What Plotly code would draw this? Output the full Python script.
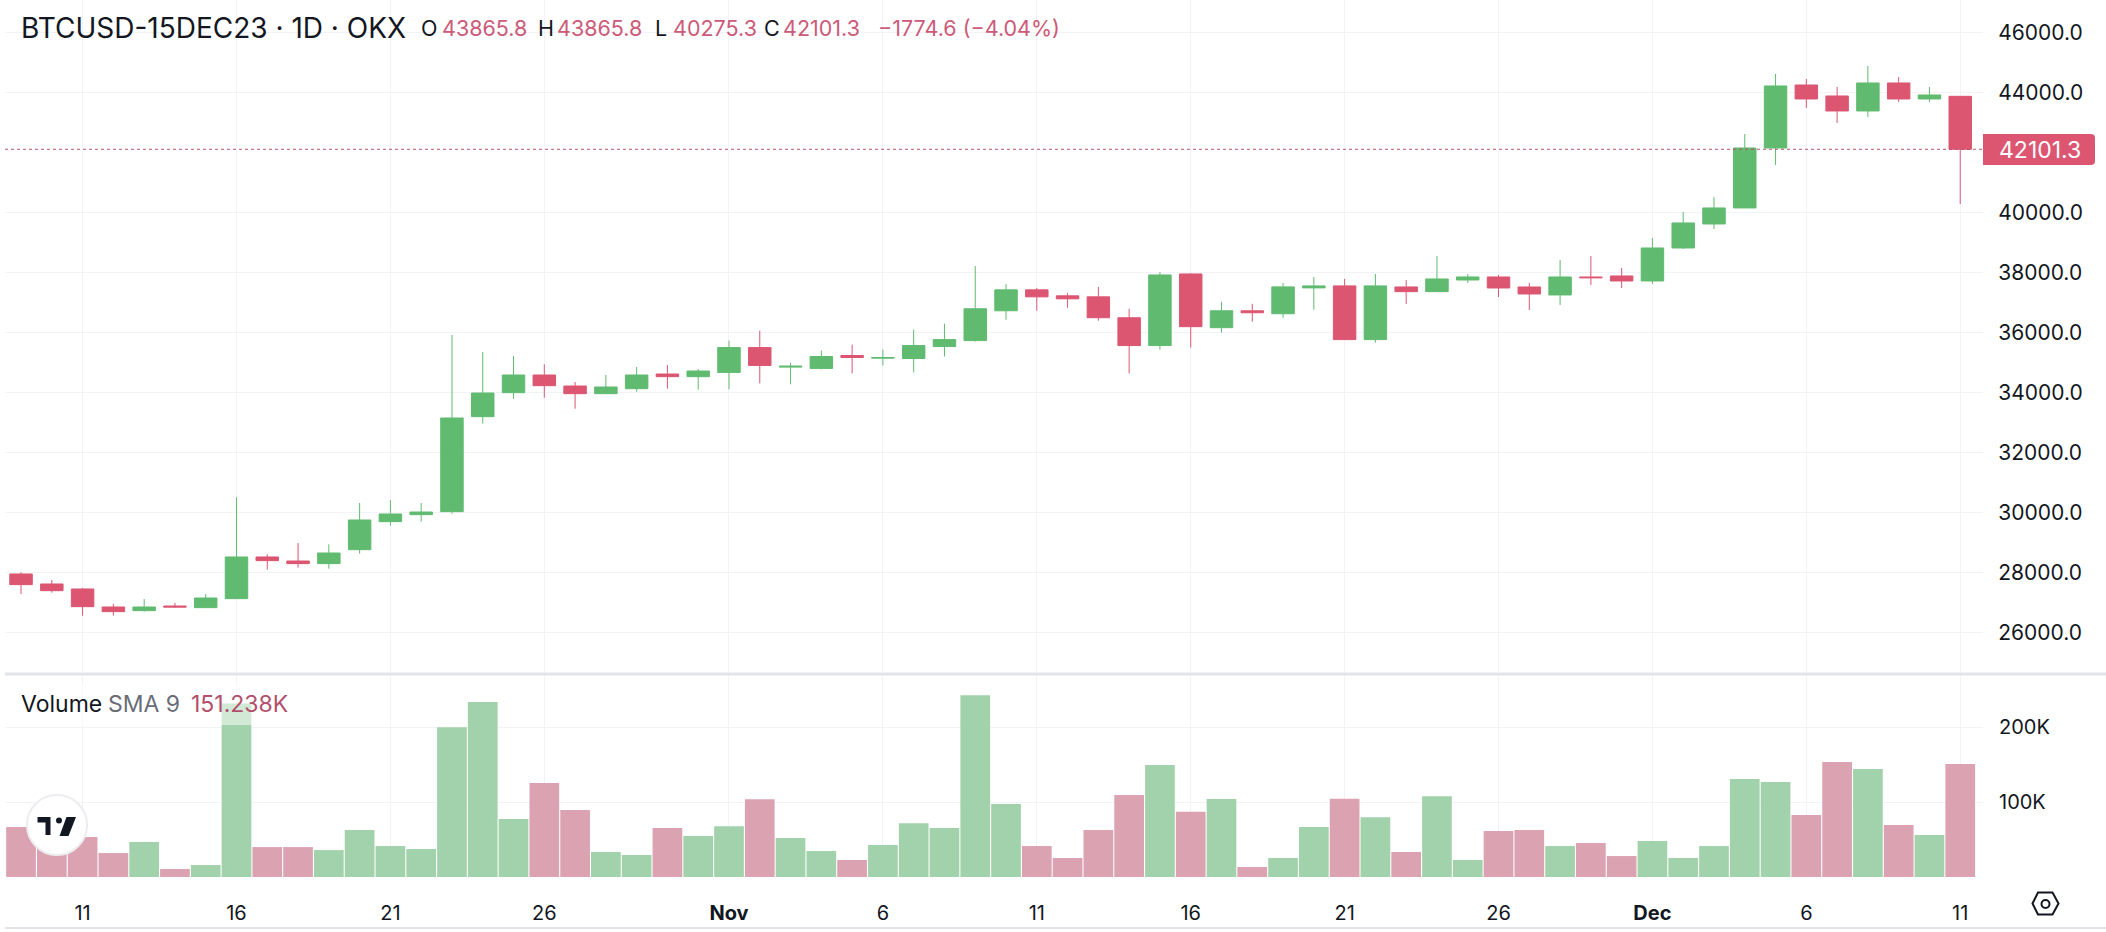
import pandas as pd
import plotly.graph_objects as go

# =========================
# DATA
# =========================
dates = pd.date_range("2023-10-09", "2023-12-11", freq="D")

open_prices = [
    27944, 27611, 27444, 26844, 26722, 26877, 26822, 27122, 28511, 28377, 28289, 28755,
    29689, 29922, 30022, 33188, 33988, 34577, 34210, 33955, 34121, 34610, 34521,
    34663, 35492, 34840, 34796, 35226, 35138, 35127, 35525, 35724, 36718, 37415, 37216,
    37182, 36486, 35558, 37945, 36155, 36718, 36619, 37481, 37547, 35757, 37512, 37356,
    37744, 37845, 37511, 37245, 37845, 37878,
    37711, 38811, 39611, 40145, 42144, 44244, 43878, 43378, 44311, 43778, 43865.8,
]
high_prices = [
    28000, 27744, 27478, 26944, 27111, 26977, 27278, 30500, 28600, 28977, 28933, 30310,
    30410, 30310, 35910, 35343, 35210, 34932, 34344, 34577, 34844, 34910, 34777,
    35724, 36055, 34983, 35392, 35591, 35425, 36089, 36287, 38210, 37613, 37481, 37315,
    37514, 36785, 38011, 37978, 37017, 36950, 37647, 37845, 37779, 37945, 37745, 38545,
    37945, 37911, 37645, 38411, 38545, 38145,
    39145, 40011, 40511, 42611, 44611, 44444, 44178, 44878, 44511, 44178, 43865.8,
]
low_prices = [
    27278, 27322, 26555, 26555, 26689, 26822, 26822, 27122, 28089, 28155, 28122, 28622,
    29555, 29688, 29955, 32955, 33788, 33821, 33455, 33955, 34021, 34121, 34088,
    34100, 34298, 34265, 34762, 34630, 34895, 34663, 35193, 35691, 36420, 36718, 36818,
    36387, 34630, 35425, 35492, 35989, 36354, 36486, 36752, 35757, 35658, 36945, 37356,
    37645, 37178, 36745, 36911, 37578, 37478,
    37611, 38778, 39444, 40145, 41578, 43478, 42978, 43178, 43678, 43678, 40275.3,
]
close_prices = [
    27589, 27388, 26855, 26689, 26844, 26844, 27144, 28511, 28389, 28289, 28644, 29744,
    29944, 30010, 33144, 33977, 34577, 34221, 33955, 34177, 34577, 34521, 34710,
    35492, 34895, 34870, 35193, 35160, 35160, 35558, 35757, 36785, 37415, 37182, 37116,
    36486, 35558, 37912, 36188, 36718, 36652, 37514, 37547, 35757, 37547, 37356, 37778,
    37845, 37478, 37278, 37845, 37820, 37711,
    38811, 39645, 40145, 42144, 44211, 43778, 43378, 44311, 43778, 43911, 42101.3,
]
# volume in thousands
volumes = [
    66.8, 58, 53.4, 32, 46.8, 10.7, 16, 232, 40, 40, 36, 62.8,
    41.4, 37.4, 200, 234, 77.5, 125.6, 89.5, 33.4, 29.4, 65.5, 54.8,
    68, 103.8, 52, 34.7, 22.7, 42.8, 72, 65.5, 243, 97.5, 41.4, 25.4,
    62.8, 109.6, 149.7, 87.3, 104.2, 13.4, 25.4, 66.8, 104.7, 80, 33.4, 108,
    22.7, 61.5, 62.8, 41.4, 45.4, 28,
    48, 25.4, 41.4, 131, 127, 83, 153.7, 144.3, 69.5, 56, 151,
]

# 42000 sits behind the last price tag in the original
price_ticks = [26000, 28000, 30000, 32000, 34000, 36000, 38000, 40000, 44000, 46000]
volume_ticks = [100, 200]
volume_tick_labels = ["100K", "200K"]
date_ticks = ["2023-10-11", "2023-10-16", "2023-10-21", "2023-10-26", "2023-11-01", "2023-11-06",
              "2023-11-11", "2023-11-16", "2023-11-21", "2023-11-26", "2023-12-01", "2023-12-06",
              "2023-12-11"]
date_tick_labels = ["11", "16", "21", "26", "<b>Nov</b>", "6", "11", "16", "21", "26", "<b>Dec</b>", "6", "11"]
last_close = close_prices[-1]

# =========================
# STYLE
# =========================
WIDTH = 2106
HEIGHT = 932
GREEN = "#60BB70"
RED = "#DC5672"
VOL_GREEN = "#A2D2AB"
VOL_RED = "#DBA3B1"
GRID = "#F2F3F6"
INK = "#131722"
FONT = "Inter"


def px(x):
    return x / WIDTH


def py(y):
    return 1 - y / HEIGHT


def path(points):
    return "M" + " L".join(f"{px(x):.5f},{py(y):.5f}" for x, y in points) + " Z"


def rounded_rect(x0, y0, x1, y1, r):
    p = lambda x, y: f"{px(x):.5f},{py(y):.5f}"
    return (
        f"M{p(x0, y0)} L{p(x1 - r, y0)} Q{p(x1, y0)} {p(x1, y0 + r)} "
        f"L{p(x1, y1 - r)} Q{p(x1, y1)} {p(x1 - r, y1)} L{p(x0, y1)} Z"
    )


# =========================
# FIGURE
# =========================
fig = go.Figure()

fig.add_trace(go.Candlestick(
    x=dates,
    open=open_prices,
    high=high_prices,
    low=low_prices,
    close=close_prices,
    increasing=dict(line=dict(color=GREEN, width=1), fillcolor=GREEN),
    decreasing=dict(line=dict(color=RED, width=1), fillcolor=RED),
    whiskerwidth=0,
    showlegend=False,
    xaxis="x",
    yaxis="y",
))

fig.add_trace(go.Bar(
    x=dates,
    y=volumes,
    marker=dict(
        color=[VOL_GREEN if c >= o else VOL_RED for o, c in zip(open_prices, close_prices)],
        line=dict(width=0),
    ),
    showlegend=False,
    xaxis="x2",
    yaxis="y2",
))

x_range = ["2023-10-08 11:30", "2023-12-11 17:45"]
x_domain = [px(5), px(1983)]

fig.update_layout(
    width=WIDTH,
    height=HEIGHT,
    margin=dict(l=0, r=0, t=0, b=0),
    paper_bgcolor="white",
    plot_bgcolor="white",
    boxgap=0.27,
    boxgroupgap=0,
    bargap=0.035,
    font=dict(family=FONT, color=INK, size=20),
    xaxis=dict(
        domain=x_domain, range=x_range, type="date", anchor="y",
        rangeslider=dict(visible=False),
        tickvals=date_ticks, showticklabels=False,
        showgrid=True, gridcolor=GRID, gridwidth=1, zeroline=False, showline=False,
    ),
    yaxis=dict(
        domain=[py(672), 1], range=[24677, 47077], side="right", anchor="x",
        tickvals=price_ticks, tickformat=".1f",
        ticks="outside", ticklen=10, tickcolor="rgba(0,0,0,0)",
        tickfont=dict(family=FONT, size=21, color=INK),
        showgrid=True, gridcolor=GRID, gridwidth=1, zeroline=False, showline=False,
    ),
    xaxis2=dict(
        domain=x_domain, range=x_range, type="date", anchor="y2",
        tickvals=date_ticks, ticktext=date_tick_labels,
        ticks="outside", ticklen=18, tickcolor="rgba(0,0,0,0)",
        tickfont=dict(family=FONT, size=20, color=INK),
        showgrid=True, gridcolor=GRID, gridwidth=1, zeroline=False, showline=False,
    ),
    yaxis2=dict(
        domain=[py(877), py(675)], range=[0, 270], side="right", anchor="x2",
        tickvals=volume_ticks, ticktext=volume_tick_labels,
        ticks="outside", ticklen=11, tickcolor="rgba(0,0,0,0)",
        tickfont=dict(family=FONT, size=20, color=INK),
        showgrid=True, gridcolor=GRID, gridwidth=1, zeroline=False, showline=False,
    ),
)

# =========================
# SHAPES
# =========================
shapes = [
    # pane separator and bottom rule
    dict(type="rect", xref="paper", yref="paper", x0=px(5), x1=1, y0=py(675.5), y1=py(672.5),
         fillcolor="#E2E4EA", line=dict(width=0)),
    dict(type="rect", xref="paper", yref="paper", x0=px(5), x1=1, y0=py(929), y1=py(927),
         fillcolor="#E2E4EA", line=dict(width=0)),
    # last price line
    dict(type="line", xref="paper", yref="y", x0=px(5), x1=px(1983), y0=last_close, y1=last_close,
         line=dict(color="#B9546C", width=1, dash="dot")),
    # veil behind the volume legend
    dict(type="rect", xref="paper", yref="paper", x0=px(10), x1=px(295), y0=py(725), y1=py(683),
         fillcolor="rgba(255,255,255,0.5)", line=dict(width=0)),
    # last price tag
    dict(type="path", xref="paper", yref="paper", path=rounded_rect(1983, 134, 2095, 165, 4),
         fillcolor=RED, line=dict(width=0)),
    # TradingView badge
    dict(type="circle", xref="paper", yref="paper", x0=px(27), x1=px(87), y0=py(855), y1=py(795),
         fillcolor="white", line=dict(color="#ECEDF0", width=2)),
    dict(type="path", xref="paper", yref="paper", line=dict(width=0), fillcolor=INK,
         path=path([(37.5, 817), (50.5, 817), (50.5, 835), (45.5, 835), (45.5, 822.5), (37.5, 822.5)])),
    dict(type="circle", xref="paper", yref="paper", x0=px(56), x1=px(62), y0=py(823.5), y1=py(817.5),
         fillcolor=INK, line=dict(width=0)),
    dict(type="path", xref="paper", yref="paper", line=dict(width=0), fillcolor=INK,
         path=path([(66.5, 817), (76, 817), (68.5, 836), (59.5, 836)])),
    # settings hexagon
    dict(type="path", xref="paper", yref="paper", line=dict(color=INK, width=2),
         path=path([(2032.5, 903.5), (2038, 892.5), (2052.5, 892.5), (2058.5, 903.5),
                    (2052.5, 914.5), (2038, 914.5)])),
    dict(type="circle", xref="paper", yref="paper", x0=px(2041.5), x1=px(2049.5), y0=py(908), y1=py(900),
         line=dict(color=INK, width=2)),
]
fig.update_layout(shapes=shapes)

# =========================
# TEXT
# =========================
VALUE_RED = "#CC5A78"
header = [
    ("BTCUSD-15DEC23 · 1D · OKX", 20, 28, INK),
    ("O", 420, 21.5, INK),
    ("43865.8", 441, 21.5, VALUE_RED),
    ("H", 537, 21.5, INK),
    ("43865.8", 556, 21.5, VALUE_RED),
    ("L", 654, 21.5, INK),
    ("40275.3", 672, 21.5, VALUE_RED),
    ("C", 763, 21.5, INK),
    ("42101.3", 782, 21.5, VALUE_RED),
    ("−1774.6 (−4.04%)", 877, 21.5, VALUE_RED),
]
volume_legend = [
    ("Volume", 20, INK),
    ("SMA 9", 107, "#6A6D78"),
    ("151.238K", 190, "#B2506C"),
]

annotations = []
for text, x, size, color in header:
    annotations.append(dict(text=text, xref="paper", yref="paper", x=px(x), y=py(28),
                            xanchor="left", yanchor="middle", showarrow=False,
                            borderpad=0, font=dict(family=FONT, size=size, color=color)))
for text, x, color in volume_legend:
    annotations.append(dict(text=text, xref="paper", yref="paper", x=px(x), y=py(704),
                            xanchor="left", yanchor="middle", showarrow=False,
                            borderpad=0, font=dict(family=FONT, size=23, color=color)))
annotations.append(dict(text=f"{last_close:.1f}", xref="paper", yref="paper", x=px(1998), y=py(150),
                        xanchor="left", yanchor="middle", showarrow=False,
                        borderpad=0, font=dict(family=FONT, size=23, color="white")))
fig.update_layout(annotations=annotations)

fig.write_html(
    "out.html",
    config={"displayModeBar": False},
    post_script="document.body.style.margin='0';",
)
